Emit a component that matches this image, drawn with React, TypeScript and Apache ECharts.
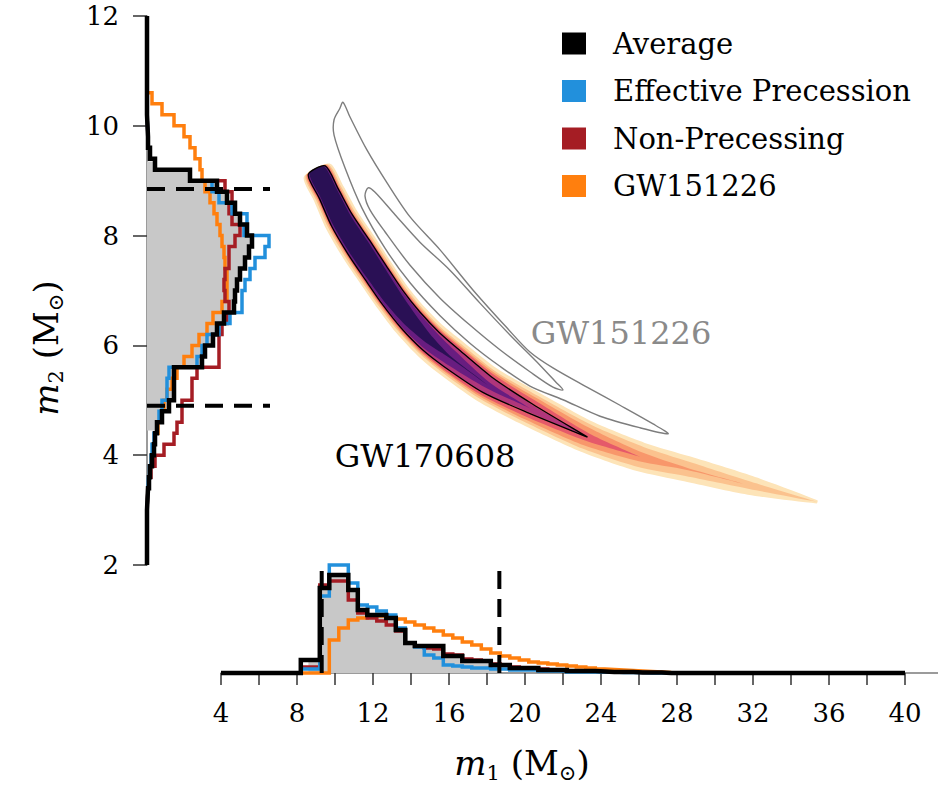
import React, { useEffect, useRef } from "react";
import * as echarts from "echarts";

const SERIF = "'DejaVu Serif', 'Liberation Serif', serif";

// ===== Axes =====
const m1Range = [4, 40];
const m2Range = [2, 12];
const m1TickStep = 2;
const m1LabelStep = 4;
const m2TickStep = 2;

// ===== Legend =====
const seriesNames = ["Average", "Effective Precession", "Non-Precessing", "GW151226"];
const seriesColors = ["#000000", "#2290dc", "#a51d24", "#ff7f0e"];

// ===== Left marginal: m2 histograms (bins of 0.2 Msun starting at 3.0) =====
const m2BinStart = 3.0;
const m2BinWidth = 0.2;
const m2Average = [0.5, 1, 2, 3, 5, 7, 8, 10, 15, 22, 27, 27, 27, 55, 58, 66, 70, 77, 87, 88, 90, 93, 98, 102, 105, 100, 93, 88, 80, 70, 43, 8, 3, 1, 0.5, 0, 0, 0];
const m2Effective = [0.5, 1, 1.5, 2.5, 4, 5, 7, 10, 12, 15, 20, 20, 22, 50, 55, 60, 72, 83, 95, 95, 98, 103, 108, 118, 122, 97, 100, 85, 72, 65, 43, 8, 3, 1, 0.5, 0, 0, 0];
const m2NonPrecessing = [0.5, 1, 2, 4, 8, 17, 27, 30, 35, 35, 45, 45, 50, 72, 72, 72, 75, 80, 82, 78, 77, 78, 82, 82, 88, 93, 85, 82, 85, 78, 43, 8, 3, 1, 0.5, 0, 0, 0];
const m2GW151226 = [0.5, 1, 2, 3, 4, 6, 8, 11, 14, 17, 20, 25, 30, 37, 45, 52, 60, 66, 75, 80, 80, 80, 78, 77, 75, 73, 70, 67, 63, 58, 55, 53, 48, 43, 37, 27, 15, 5];
const m2GrayRange = [4.45, 9.35];
const m2Interval = [4.9, 8.85];
const m2DashLength = 123;
const m2DensityMax = 160;

// ===== Bottom marginal: m1 histograms (bins of 0.5 Msun starting at 8.2) =====
const m1BinStart = 8.2;
const m1BinWidth = 0.5;
const m1Average = [13, 13, 85, 98, 98, 83, 63, 58, 58, 55, 43, 30, 27, 27, 27, 17, 17, 12, 12, 12, 8, 8, 5, 5, 5, 3, 3, 3, 2, 2, 2, 1.5, 1, 1, 1, 0.5, 0.5, 0.5, 0, 0];
const m1Effective = [4, 4, 77, 108, 108, 90, 68, 66, 62, 58, 45, 30, 26, 18, 15, 8, 7, 6, 5, 5, 4, 4, 3, 3, 3, 2, 2, 2, 1, 1, 1, 1, 1, 0.5, 0.5, 0.5, 0, 0, 0, 0];
const m1NonPrecessing = [6, 6, 88, 92, 92, 73, 60, 55, 52, 48, 42, 30, 27, 25, 24, 19, 18, 14, 13, 12, 9, 8, 6, 5, 5, 4, 3, 3, 2, 2, 2, 1.5, 1, 1, 1, 0.5, 0.5, 0.5, 0, 0];
const m1GW151226 = [0, 0, 0, 33, 45, 53, 55, 57, 57, 56, 54, 51, 48, 45, 42, 38, 35, 31, 28, 24, 20, 17, 15, 13, 11, 10, 9, 8, 7, 6, 5, 4, 3.5, 3, 2.5, 2, 1.5, 1, 0.5, 0.3];
const m1GrayRange = [8.6, 18.65];
const m1Interval = [9.3, 18.65];
const m1DashLength = 108;
const m1DensityMax = 108;

// ===== GW170608 2D posterior band: centre line and half-widths (in m2) per level =====
const bandCenterM1 = [9.04, 9.68, 10.36, 11.25, 12.15, 13.04, 13.98, 15.04, 16.09, 18.03, 20.29, 23.29, 26.07, 28.54, 31.85, 35.37];
const bandCenterM2 = [9.19, 8.76, 8.28, 7.79, 7.32, 6.87, 6.46, 6.08, 5.78, 5.28, 4.85, 4.33, 3.97, 3.75, 3.45, 3.15];
const bandLevel1 = [0.58, 0.67, 0.67, 0.64, 0.61, 0.57, 0.53, 0.49, 0.46, 0.41, 0.37, 0.32, 0.28, 0.24, 0.18, 0.03];
const bandLevel2 = [0.51, 0.58, 0.58, 0.56, 0.54, 0.5, 0.46, 0.42, 0.39, 0.34, 0.3, 0.25, 0.2, 0.14, 0.07, 0];
const bandLevel3 = [0.46, 0.52, 0.52, 0.5, 0.48, 0.45, 0.42, 0.38, 0.35, 0.3, 0.25, 0.18, 0.09, 0.02, 0, 0];
const bandLevel4 = [0.42, 0.48, 0.48, 0.47, 0.45, 0.42, 0.38, 0.35, 0.32, 0.26, 0.19, 0.08, 0, 0, 0, 0];
const bandLevel5 = [0.39, 0.45, 0.45, 0.44, 0.42, 0.39, 0.35, 0.31, 0.27, 0.19, 0.08, 0, 0, 0, 0, 0];
const bandLevel6 = [0.36, 0.42, 0.42, 0.41, 0.39, 0.35, 0.31, 0.25, 0.18, 0.07, 0, 0, 0, 0, 0, 0];
const bandLevel7 = [0.32, 0.37, 0.37, 0.36, 0.33, 0.28, 0.2, 0.1, 0.02, 0, 0, 0, 0, 0, 0, 0];
const bandLevels = [bandLevel1, bandLevel2, bandLevel3, bandLevel4, bandLevel5, bandLevel6, bandLevel7];
const bandColors = ["#fde4b8", "#fbc28e", "#f8976b", "#e55a6a", "#b0367b", "#681d80", "#2a1055"];
const contour90HalfWidth = [0.38, 0.43, 0.44, 0.43, 0.41, 0.38, 0.34, 0.3, 0.26, 0.19, 0.1, 0, 0, 0, 0, 0];

// ===== GW151226 contours (m1, m2) =====
const gw151226Outer = [
  [10.42, 10.43], [10.79, 10.16], [11.68, 9.56], [12.74, 8.96], [13.95, 8.34], [15.53, 7.74], [17.26, 7.01],
  [19.05, 6.32], [20.26, 5.88], [21.47, 5.59], [23.26, 5.24], [25.0, 4.91], [26.74, 4.57], [27.53, 4.39],
  [26.05, 4.5], [23.95, 4.71], [22.0, 5.01], [20.26, 5.26], [18.68, 5.62], [17.1, 6.04], [15.53, 6.54],
  [13.95, 7.14], [12.63, 7.77], [11.42, 8.5], [10.53, 9.23], [9.95, 9.83], [9.95, 10.11], [10.26, 10.32],
];
const gw151226Inner = [
  [11.74, 8.87], [12.11, 8.79], [13.16, 8.38], [14.47, 7.88], [16.05, 7.37], [17.63, 6.77], [19.21, 6.19],
  [20.79, 5.64], [21.63, 5.33], [22.0, 5.19], [21.47, 5.24], [20.26, 5.52], [18.68, 5.92], [17.1, 6.37],
  [15.53, 6.86], [13.95, 7.46], [12.63, 8.07], [11.84, 8.47], [11.58, 8.72],
];

// ===== Event labels =====
const eventNames = ["GW170608", "GW151226"];
const eventLabelM1 = [14.74, 25.05];
const eventLabelM2 = [3.99, 6.23];
const eventLabelColors = ["#000000", "#8a8a8a"];

// ---------- helpers ----------
function leftStepPoints(vals: number[]) {
  const pts: number[][] = [[0, m2Range[0]], [0, m2BinStart]];
  vals.forEach((v, i) => {
    const a = m2BinStart + i * m2BinWidth;
    pts.push([v, a], [v, a + m2BinWidth]);
  });
  pts.push([0, m2BinStart + vals.length * m2BinWidth], [0, m2Range[1]]);
  return pts;
}
function bottomStepPoints(vals: number[]) {
  const pts: number[][] = [[m1Range[0], 0], [m1BinStart, 0]];
  vals.forEach((v, i) => {
    const a = m1BinStart + i * m1BinWidth;
    pts.push([a, v], [a + m1BinWidth, v]);
  });
  pts.push([m1BinStart + vals.length * m1BinWidth, 0], [m1Range[1], 0]);
  return pts;
}
function clippedFill(vals: number[], start: number, width: number, lo: number, hi: number) {
  const pts: number[][] = [[lo, 0]];
  vals.forEach((v, i) => {
    const a = start + i * width;
    const b = a + width;
    if (b <= lo || a >= hi) return;
    pts.push([Math.max(a, lo), v], [Math.min(b, hi), v]);
  });
  pts.push([hi, 0]);
  return pts;
}
function bandOutline(api: any, hws: number[]) {
  let last = hws.length - 1;
  for (let i = 0; i < hws.length; i++) {
    if (hws[i] <= 0) {
      last = i;
      break;
    }
  }
  const pts = [];
  for (let i = 0; i <= last; i++) pts.push(api.coord([bandCenterM1[i], bandCenterM2[i]]));
  const upper: number[][] = [];
  const lower: number[][] = [];
  for (let i = 0; i <= last; i++) {
    const p = pts[i];
    const a = pts[Math.max(0, i - 1)];
    const b = pts[Math.min(last, i + 1)];
    let dx = b[0] - a[0];
    let dy = b[1] - a[1];
    const len = Math.hypot(dx, dy) || 1;
    dx /= len;
    dy /= len;
    const vpx = Math.abs(api.size([0, hws[i]])[1]);
    const w = vpx * dx;
    upper.push([p[0] + dy * w, p[1] - dx * w]);
    lower.push([p[0] - dy * w, p[1] + dx * w]);
  }
  return upper.concat(lower.reverse());
}

function buildOption() {
  const leftHist = [m2GW151226, m2NonPrecessing, m2Effective, m2Average];
  const bottomHist = [m1GW151226, m1NonPrecessing, m1Effective, m1Average];
  const order = [3, 2, 1, 0]; // orange, red, blue, then black on top
  const histSeries: any[] = [];
  order.forEach((k, j) => {
    const width = k === 0 ? 4.5 : 3.5;
    const common = {
      type: "line",
      name: seriesNames[k],
      showSymbol: false,
      symbol: "none",
      clip: false,
      silent: true,
      color: seriesColors[k],
      itemStyle: { color: seriesColors[k] },
      lineStyle: { color: seriesColors[k], width, join: "miter" },
    };
    histSeries.push({ ...common, xAxisIndex: 0, yAxisIndex: 0, data: leftStepPoints(leftHist[j]) });
    histSeries.push({ ...common, xAxisIndex: 1, yAxisIndex: 1, data: bottomStepPoints(bottomHist[j]) });
  });

  const dashSeries: any[] = [];
  m2Interval.forEach((v) => {
    dashSeries.push({
      type: "line",
      xAxisIndex: 0,
      yAxisIndex: 0,
      data: [[0, v], [m2DashLength, v]],
      showSymbol: false,
      symbol: "none",
      clip: false,
      silent: true,
      lineStyle: { color: "#000", width: 4, type: [18, 11] },
    });
  });
  m1Interval.forEach((v) => {
    dashSeries.push({
      type: "line",
      xAxisIndex: 1,
      yAxisIndex: 1,
      data: [[v, 0], [v, m1DashLength]],
      showSymbol: false,
      symbol: "none",
      clip: false,
      silent: true,
      lineStyle: { color: "#000", width: 4, type: [18, 10] },
    });
  });

  const axisLabelStyle = { fontFamily: SERIF, fontSize: 26, color: "#000" };
  const titleRich = {
    i: { fontFamily: SERIF, fontStyle: "italic", fontSize: 34 },
    s: { fontFamily: SERIF, fontSize: 21, padding: [20, 0, 0, 0] },
  };

  return {
    animation: false,
    backgroundColor: "#ffffff",
    grid: [
      { left: 147, top: 16, width: 160, height: 549 },
      { left: 221, top: 565, width: 684, height: 108 },
      { left: 221, top: 16, width: 684, height: 549 },
    ],
    xAxis: [
      { gridIndex: 0, type: "value", min: 0, max: m2DensityMax, show: false },
      {
        gridIndex: 1,
        type: "value",
        min: m1Range[0],
        max: m1Range[1],
        interval: m1TickStep,
        axisLine: { show: true, lineStyle: { color: "#7a7a7a", width: 1.5 } },
        axisTick: { show: true, inside: false, length: 12, lineStyle: { color: "#333", width: 1.5 } },
        axisLabel: {
          ...axisLabelStyle,
          margin: 27,
          formatter: (v: number) => (v % m1LabelStep === 0 ? String(v) : ""),
        },
        splitLine: { show: false },
      },
      { gridIndex: 2, type: "value", min: m1Range[0], max: m1Range[1], show: false },
    ],
    yAxis: [
      {
        gridIndex: 0,
        type: "value",
        min: m2Range[0],
        max: m2Range[1],
        interval: m2TickStep,
        axisLine: { show: true, lineStyle: { color: "#7a7a7a", width: 1.5 } },
        axisTick: { show: true, inside: false, length: 14, lineStyle: { color: "#333", width: 1.5 } },
        axisLabel: { ...axisLabelStyle, margin: 28 },
        splitLine: { show: false },
      },
      { gridIndex: 1, type: "value", min: 0, max: m1DensityMax, show: false },
      { gridIndex: 2, type: "value", min: m2Range[0], max: m2Range[1], show: false },
    ],
    legend: {
      data: seriesNames.map((n) => ({ name: n, icon: "rect" })),
      orient: "vertical",
      left: 557,
      top: 24,
      itemWidth: 24,
      itemHeight: 22,
      itemGap: 18.5,
      selectedMode: false,
      textStyle: { fontFamily: SERIF, fontSize: 29, color: "#000", lineHeight: 28, padding: [0, 0, 0, 22] },
    },
    graphic: [
      {
        type: "line",
        silent: true,
        shape: { x1: 905, y1: 673, x2: 938, y2: 673 },
        style: { stroke: "#7a7a7a", lineWidth: 1.5 },
      },
      {
        type: "text",
        x: 46,
        y: 348,
        rotation: Math.PI / 2,
        silent: true,
        style: {
          text: "{i|m}{s|2} (M{s|⊙})",
          fontFamily: SERIF,
          fontSize: 34,
          fill: "#000",
          align: "center",
          verticalAlign: "middle",
          rich: titleRich,
        },
      },
      {
        type: "text",
        x: 522,
        y: 763,
        silent: true,
        style: {
          text: "{i|m}{s|1} (M{s|⊙})",
          fontFamily: SERIF,
          fontSize: 34,
          fill: "#000",
          align: "center",
          verticalAlign: "middle",
          rich: titleRich,
        },
      },
    ],
    series: [
      {
        type: "custom",
        xAxisIndex: 0,
        yAxisIndex: 0,
        silent: true,
        data: [[0, 2, 0]],
        renderItem: (_p: any, api: any) => ({
          type: "polygon",
          shape: {
            points: clippedFill(m2Average, m2BinStart, m2BinWidth, m2GrayRange[0], m2GrayRange[1]).map((q) =>
              api.coord([q[1], q[0]])
            ),
          },
          style: { fill: "#c8c8c8", stroke: "none" },
        }),
      },
      {
        type: "custom",
        xAxisIndex: 1,
        yAxisIndex: 1,
        silent: true,
        data: [[4, 0, 0]],
        renderItem: (_p: any, api: any) => ({
          type: "polygon",
          shape: {
            points: clippedFill(m1Average, m1BinStart, m1BinWidth, m1GrayRange[0], m1GrayRange[1]).map((q) =>
              api.coord([q[0], q[1]])
            ),
          },
          style: { fill: "#c8c8c8", stroke: "none" },
        }),
      },
      {
        type: "custom",
        xAxisIndex: 2,
        yAxisIndex: 2,
        silent: true,
        data: bandLevels.map((_l, i) => [4, 2, i]),
        renderItem: (_p: any, api: any) => {
          const lvl = api.value(2);
          return {
            type: "polygon",
            shape: { points: bandOutline(api, bandLevels[lvl]), smooth: 0.25 },
            style: { fill: bandColors[lvl], stroke: "none" },
          };
        },
      },
      {
        type: "custom",
        xAxisIndex: 2,
        yAxisIndex: 2,
        silent: true,
        data: [[4, 2, 0]],
        renderItem: (_p: any, api: any) => ({
          type: "polygon",
          shape: { points: bandOutline(api, contour90HalfWidth), smooth: 0.25 },
          style: { fill: "none", stroke: "#000", lineWidth: 1.3 },
        }),
      },
      {
        type: "custom",
        xAxisIndex: 2,
        yAxisIndex: 2,
        silent: true,
        data: [[4, 2, 0], [4, 2, 1]],
        renderItem: (_p: any, api: any) => {
          const poly = api.value(2) === 0 ? gw151226Outer : gw151226Inner;
          return {
            type: "polygon",
            shape: { points: poly.map((q) => api.coord(q)), smooth: 0.3 },
            style: { fill: "none", stroke: "#7d7d7d", lineWidth: 1.4 },
          };
        },
      },
      ...eventNames.map((n, i) => ({
        type: "scatter",
        xAxisIndex: 2,
        yAxisIndex: 2,
        silent: true,
        symbolSize: 1,
        itemStyle: { color: "rgba(0,0,0,0)" },
        data: [{ name: n, value: [eventLabelM1[i], eventLabelM2[i]] }],
        label: {
          show: true,
          position: "inside",
          formatter: (p: any) => p.name,
          fontFamily: SERIF,
          fontSize: 32,
          color: eventLabelColors[i],
          textBorderWidth: 0,
          opacity: 1,
        },
      })),
      ...histSeries,
      ...dashSeries,
    ],
  };
}

export default function App() {
  const ref = useRef<HTMLDivElement>(null);
  useEffect(() => {
    if (!ref.current) return;
    const chart = echarts.init(ref.current, null, { renderer: "svg" });
    chart.setOption(buildOption() as any);
    return () => chart.dispose();
  }, []);
  return (
    <div
      ref={ref}
      style={{ position: "fixed", left: 0, top: 0, width: 944, height: 787, background: "#ffffff" }}
    />
  );
}
